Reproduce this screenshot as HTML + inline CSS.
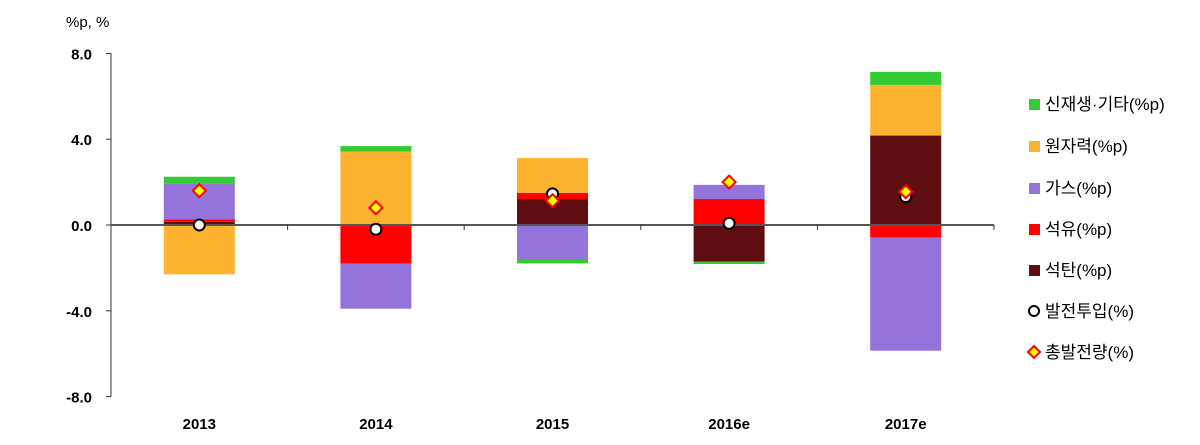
<!DOCTYPE html>
<html><head><meta charset="utf-8"><style>
body{margin:0;background:#fff;}
svg text{font-family:"Liberation Sans","Noto Sans CJK KR",sans-serif;}
</style></head><body>
<svg id="chart" width="1200" height="440"></svg>
<script>
const categories=["2013","2014","2015","2016e","2017e"];
const seriesNames=["석탄(%p)","석유(%p)","가스(%p)","원자력(%p)","신재생·기타(%p)"];
const coal=[0.15,0,1.21,-1.71,4.17];
const oil=[0.12,-1.8,0.29,1.21,-0.58];
const gas=[1.68,-2.1,-1.63,0.66,-5.28];
const nuclear=[-2.3,3.42,1.62,0,2.36];
const renew=[0.3,0.26,-0.16,-0.11,0.61];
const input=[0.0,-0.2,1.45,0.08,1.32];
const total=[1.6,0.8,1.13,2.0,1.55];
const yTicks=[8,4,0,-4,-8];
const yTickLabels=["8.0","4.0","0.0","-4.0","-8.0"];

const NS="http://www.w3.org/2000/svg";
const svg=document.getElementById('chart');
function mk(t,a,p){const e=document.createElementNS(NS,t);for(const k in a)e.setAttribute(k,a[k]);(p||svg).appendChild(e);return e;}
const x0=111,x1=994,yZero=225,ppu=21.45;
const y=v=>yZero-v*ppu;
const bw=(x1-x0)/categories.length;
const xc=i=>x0+bw*(i+0.5);
const colors=["#5e0e10","#ff0000","#9473db","#fdb330","#33cc33"];
const series=[coal,oil,gas,nuclear,renew];
const keys=["coal","oil","gas","nuclear","renew"];

// y axis
let ax=mk('line',{x1:x0,y1:y(8),x2:x0,y2:y(-8),stroke:'#333','stroke-width':1});


yTicks.forEach((v,i)=>{
  let t=mk('line',{x1:x0-5,y1:y(v),x2:x0,y2:y(v),stroke:'#333'});
  
  
  let l=mk('text',{x:92,y:y(v)+6,'text-anchor':'end','font-size':15,'font-weight':'bold',fill:'#000'});
  l.textContent=yTickLabels[i];
  
  
});
let yt=mk('text',{x:66,y:27,'font-size':15,fill:'#000'});
yt.textContent="%p, %";



// bars
categories.forEach((c,i)=>{
  let pos=0,neg=0;
  series.forEach((s,k)=>{
    const v=s[i]; if(!v) return;
    let top,bot;
    if(v>0){bot=pos;pos+=v;top=pos;}else{top=neg;neg+=v;bot=neg;}
    let r=mk('rect',{x:xc(i)-35.5,y:y(top),width:71,height:y(bot)-y(top),fill:colors[k]});
    
    
  });
});
// x axis
let xa=mk('line',{x1:x0,y1:yZero,x2:x1,y2:yZero,stroke:'#555','stroke-width':2});


for(let i=1;i<=categories.length;i++){
  let t=mk('line',{x1:x0+bw*i,y1:yZero,x2:x0+bw*i,y2:yZero+5,stroke:'#333'});
  
  
}
categories.forEach((c,i)=>{
  let l=mk('text',{x:xc(i),y:429,'text-anchor':'middle','font-size':15,'font-weight':'bold',fill:'#000'});
  l.textContent=c;
  
  
});
// markers
categories.forEach((c,i)=>{
  let ci=mk('circle',{cx:xc(i),cy:y(input[i]),r:5.5,fill:'#fff',stroke:'#000','stroke-width':2});
  
  
  const cx=xc(i),cy=y(total[i]);
  let d=mk('polygon',{points:`${cx},${cy-6.5} ${cx+6.5},${cy} ${cx},${cy+6.5} ${cx-6.5},${cy}`,fill:'#ffff00',stroke:'#ff0000','stroke-width':2});
  
  
});
// legend
const legNames=["신재생·기타(%p)","원자력(%p)","가스(%p)","석유(%p)","석탄(%p)","발전투입(%)","총발전량(%)"];
const legColors=["#33cc33","#fdb330","#9473db","#ff0000","#5e0e10"];
const legY=[104,146,188,229,270,311,352];
legNames.forEach((n,i)=>{
  const g=mk('g',{});
  
  
  const cy=legY[i];
  if(i<5) mk('rect',{x:1029,y:cy-5,width:11,height:11,fill:legColors[i]},g);
  else if(i==5) mk('circle',{cx:1034,cy:cy,r:5,fill:'#fff',stroke:'#000','stroke-width':2},g);
  else mk('polygon',{points:`1034,${cy-6} 1040,${cy} 1034,${cy+6} 1028,${cy}`,fill:'#ffff00',stroke:'#ff0000','stroke-width':2},g);
  const t=mk('text',{x:1045,y:cy+6,'font-size':17,fill:'#000'},g);
  t.textContent=n;
});
</script>
</body></html>
